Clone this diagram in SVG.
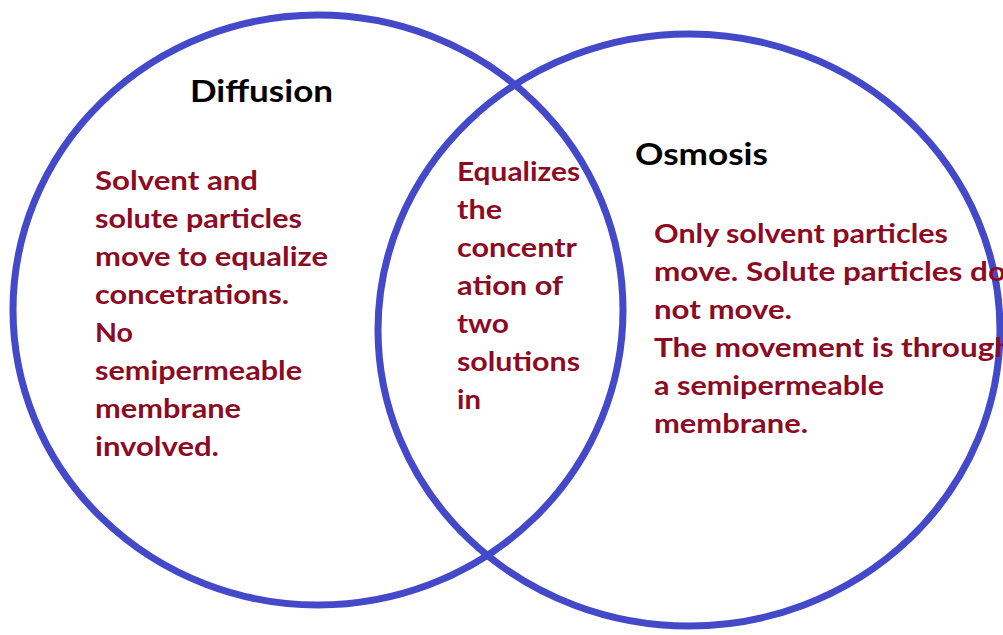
<svg xmlns="http://www.w3.org/2000/svg" width="1003" height="635" viewBox="0 0 1003 635">
  <style>
    .ring { fill: none; stroke: #4349c9; stroke-width: 7; }
    .title { font-family: Lato, "Open Sans", "Liberation Sans", sans-serif; font-weight: bold; font-size: 30px; fill: #000000; }
    .body { font-family: Lato, "Open Sans", "Liberation Sans", sans-serif; font-weight: bold; font-size: 26.5px; fill: #8b0b24; }
  </style>
  <rect x="0" y="0" width="1003" height="635" fill="#ffffff"/>
  <g id="diffusion-circle">
    <ellipse class="ring" cx="318" cy="310" rx="305" ry="295"/>
  </g>
  <g id="osmosis-circle">
    <ellipse class="ring" cx="689" cy="330" rx="311" ry="296"/>
  </g>
  <g id="diffusion">
    <text class="title" x="190" y="102" textLength="143" lengthAdjust="spacingAndGlyphs">Diffusion</text>
    <text class="body" x="95" y="190" textLength="163" lengthAdjust="spacingAndGlyphs">Solvent and</text>
    <text class="body" x="95" y="228" textLength="207" lengthAdjust="spacingAndGlyphs">solute particles</text>
    <text class="body" x="95" y="266" textLength="233" lengthAdjust="spacingAndGlyphs">move to equalize</text>
    <text class="body" x="95" y="304" textLength="194" lengthAdjust="spacingAndGlyphs">concetrations.</text>
    <text class="body" x="95" y="342" textLength="38" lengthAdjust="spacingAndGlyphs">No</text>
    <text class="body" x="95" y="380" textLength="207" lengthAdjust="spacingAndGlyphs">semipermeable</text>
    <text class="body" x="95" y="418" textLength="146" lengthAdjust="spacingAndGlyphs">membrane</text>
    <text class="body" x="95" y="456" textLength="124" lengthAdjust="spacingAndGlyphs">involved.</text>
  </g>
  <g id="overlap">
    <text class="body" x="457" y="181" textLength="123" lengthAdjust="spacingAndGlyphs">Equalizes</text>
    <text class="body" x="457" y="219" textLength="45" lengthAdjust="spacingAndGlyphs">the</text>
    <text class="body" x="457" y="257" textLength="120" lengthAdjust="spacingAndGlyphs">concentr</text>
    <text class="body" x="457" y="295" textLength="106" lengthAdjust="spacingAndGlyphs">ation of</text>
    <text class="body" x="457" y="333" textLength="52" lengthAdjust="spacingAndGlyphs">two</text>
    <text class="body" x="457" y="371" textLength="123" lengthAdjust="spacingAndGlyphs">solutions</text>
    <text class="body" x="457" y="409" textLength="24" lengthAdjust="spacingAndGlyphs">in</text>
  </g>
  <g id="osmosis">
    <text class="title" x="635" y="165" textLength="133" lengthAdjust="spacingAndGlyphs">Osmosis</text>
    <text class="body" x="654" y="243" textLength="294" lengthAdjust="spacingAndGlyphs">Only solvent particles</text>
    <text class="body" x="654" y="281" textLength="352" lengthAdjust="spacingAndGlyphs">move. Solute particles do</text>
    <text class="body" x="654" y="319" textLength="138" lengthAdjust="spacingAndGlyphs">not move.</text>
    <text class="body" x="654" y="357" textLength="358" lengthAdjust="spacingAndGlyphs">The movement is through</text>
    <text class="body" x="654" y="395" textLength="230" lengthAdjust="spacingAndGlyphs">a semipermeable</text>
    <text class="body" x="654" y="433" textLength="154" lengthAdjust="spacingAndGlyphs">membrane.</text>
  </g>
  <g id="connectors"/>
</svg>
